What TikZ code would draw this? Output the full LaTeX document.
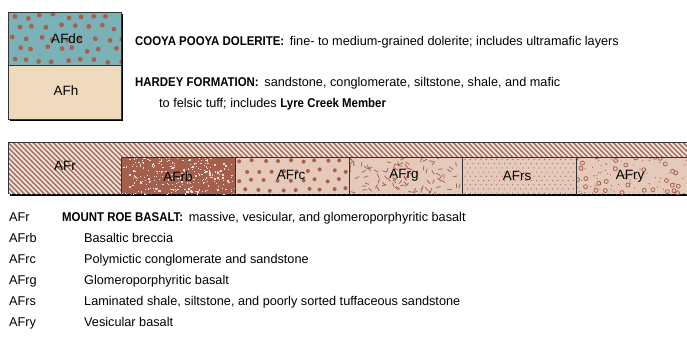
\documentclass[tikz,border=0pt]{standalone}
\usepackage{fontspec}
\setmainfont{Liberation Sans}
\newfontfamily\condfont[FakeStretch=0.9]{Liberation Sans}
\usepackage{tikz}
\usetikzlibrary{positioning}
\definecolor{dolteal}{RGB}{122,178,184}
\definecolor{dotbrown}{RGB}{168,96,78}
\definecolor{hardeybeige}{RGB}{240,218,190}
\definecolor{roebrown}{RGB}{178,122,100}
\definecolor{roelight}{RGB}{229,201,186}
\definecolor{brecdark}{RGB}{164,96,76}
\definecolor{specklight}{RGB}{238,222,212}
% pattern macros: #1 x, #2 y, #3 width, #4 height
\newcommand{\doleritedots}[4]{%
  \fill[dolteal] (#1,#2) rectangle ({#1+#3},{#2+#4});
  \begin{scope}
  \clip (#1,#2) rectangle ({#1+#3},{#2+#4});
  \foreach \r in {0,...,4}{\foreach \c in {0,...,8}{
    \pgfmathsetmacro\px{#1+5+\c*13.5+mod(\r,2)*6.5+(rnd-0.5)*5}
    \pgfmathsetmacro\py{#2+4+\r*11+(rnd-0.5)*5}
    \fill[dotbrown] (\px,\py) circle (2.4);}}
  \end{scope}}
\newcommand{\breccia}[4]{%
  \begin{scope}
  \clip (#1,#2) rectangle ({#1+#3},{#2+#4});
  \fill[brecdark] (#1,#2) rectangle ({#1+#3},{#2+#4});
  \foreach \k in {1,...,280}{
    \pgfmathsetmacro\px{#1+rnd*#3}
    \pgfmathsetmacro\py{#2+rnd*#4}
    \pgfmathsetmacro\ps{0.6+rnd*1.1}
    \fill[specklight] (\px,\py) rectangle ({\px+\ps},{\py+\ps});}
  \end{scope}}
\newcommand{\conglom}[4]{%
  \fill[roelight] (#1,#2) rectangle ({#1+#3},{#2+#4});
  \begin{scope}
  \clip (#1,#2) rectangle ({#1+#3},{#2+#4});
  \foreach \r in {0,...,3}{\foreach \c in {0,...,9}{
    \pgfmathsetmacro\px{#1+5+\c*12.5+mod(\r,2)*6+(rnd-0.5)*3}
    \pgfmathsetmacro\py{#2+4+\r*9.5+(rnd-0.5)*3}
    \fill[dotbrown] (\px,\py) circle (2);}}
  \end{scope}}
\newcommand{\glomero}[4]{%
  \fill[roelight] (#1,#2) rectangle ({#1+#3},{#2+#4});
  \begin{scope}
  \clip (#1,#2) rectangle ({#1+#3},{#2+#4});
  \foreach \k in {1,...,95}{
    \pgfmathsetmacro\px{#1+rnd*#3}
    \pgfmathsetmacro\py{#2+rnd*#4}
    \pgfmathsetmacro\pa{rnd*360}
    \draw[dotbrown,line width=0.75pt] (\px,\py) -- ++(\pa:4.5);}
  \end{scope}}
\newcommand{\shale}[4]{%
  \fill[roelight] (#1,#2) rectangle ({#1+#3},{#2+#4});
  \begin{scope}
  \clip (#1,#2) rectangle ({#1+#3},{#2+#4});
  \foreach \r in {0,...,8}{\foreach \c in {0,...,21}{
    \fill[dotbrown] ({#1+3+\c*5.3+mod(\r,2)*2.6},{#2+2.5+\r*4.2}) circle (0.6);}}
  \end{scope}}
\newcommand{\vesicular}[4]{%
  \fill[roelight] (#1,#2) rectangle ({#1+#3},{#2+#4});
  \begin{scope}
  \clip (#1,#2) rectangle ({#1+#3},{#2+#4});
  \foreach \k in {1,...,32}{
    \pgfmathsetmacro\px{#1+rnd*#3}
    \pgfmathsetmacro\py{#2+rnd*#4}
    \draw[dotbrown,line width=0.75pt] (\px,\py) circle (2);}
  \foreach \k in {1,...,80}{
    \pgfmathsetmacro\px{#1+rnd*#3}
    \pgfmathsetmacro\py{#2+rnd*#4}
    \fill[dotbrown] (\px,\py) circle (0.6);}
  \end{scope}}

\begin{document}
\begin{tikzpicture}[x=1pt,y=-1pt,
  legtxt/.style={anchor=west,inner sep=0pt,text height=9pt,text depth=2.5pt,font=\fontsize{12.7}{14}\selectfont},
  unitlbl/.style={inner sep=0pt,font=\fontsize{13.5}{15}\selectfont},
  edge/.style={draw=black!80,line width=0.7pt}]
\pgfmathsetseed{4217}
\useasboundingbox (0,0) rectangle (687,345);
% ---- upper key: dolerite over Hardey Formation ----
\fill[black] (10,14) rectangle (123,121);
\doleritedots{8}{12}{113}{53}
\fill[hardeybeige] (8,65) rectangle (121,119);
\draw[edge] (8,12) rectangle (121,119);
\draw[edge] (8,65) -- (121,65);
\node[unitlbl] (afdc) at (67,39) {AFdc};
\node[unitlbl] (afh) at (66,91) {AFh};
\node[legtxt] (dolerite) at (135,42) {{\condfont\bfseries COOYA POOYA DOLERITE:}\, fine- to medium-grained dolerite; includes ultramafic layers};
\node[legtxt] (hardey) at (135,83) {{\condfont\bfseries HARDEY FORMATION:}\, sandstone, conglomerate, siltstone, shale, and mafic};
\node[legtxt] (hardeyb) at (159,104) {to felsic tuff; includes {\condfont\bfseries Lyre Creek Member}};
% ---- Mount Roe Basalt bar ----
\fill[black] (10,144) rectangle (687,196);
\fill[roebrown] (8,142) rectangle (687,194);
\begin{scope}
\clip (8,142) rectangle (687,194);
\foreach \h in {-60,-55,...,700}
  \draw[white,line width=1.2pt] (\h,142) -- ++(52,52);
\end{scope}
\breccia{121}{157}{114}{37}
\conglom{235}{157}{114}{37}
\glomero{349}{157}{113}{37}
\shale{462}{157}{114}{37}
\vesicular{576}{157}{111}{37}
\draw[edge] (8,194) -- (8,142) -- (687,142);
\draw[edge] (121,194) -- (121,157) -- (687,157);
\foreach \xb in {235,349,462,576}
  \draw[edge] (\xb,157) -- (\xb,194);
\node[unitlbl] (afr) at (65,166) {AFr};
\node[unitlbl] (afrb) at (178,177) {AFrb};
\node[unitlbl] (afrc) at (291,175) {AFrc};
\node[unitlbl] (afrg) at (404,175) {AFrg};
\node[unitlbl] (afrs) at (517,176) {AFrs};
\node[unitlbl] (afry) at (630,176) {AFry};
% ---- legend rows ----
\node[legtxt] (code-1) at (9,218) {AFr};
\node[legtxt] (desc-1) at (62,218) {{\condfont\bfseries MOUNT ROE BASALT:}\, massive, vesicular, and glomeroporphyritic basalt};
\foreach \i/\code/\desc in {2/AFrb/Basaltic breccia,
    3/AFrc/Polymictic conglomerate and sandstone,
    4/AFrg/Glomeroporphyritic basalt,
    5/AFrs/{Laminated shale, siltstone, and poorly sorted tuffaceous sandstone},
    6/AFry/Vesicular basalt}{
  \node[legtxt] (code-\i) at (9,{218+(\i-1)*21}) {\code};
  \node[legtxt] (desc-\i) at (84,{218+(\i-1)*21}) {\desc};
}
\end{tikzpicture}
\end{document}
